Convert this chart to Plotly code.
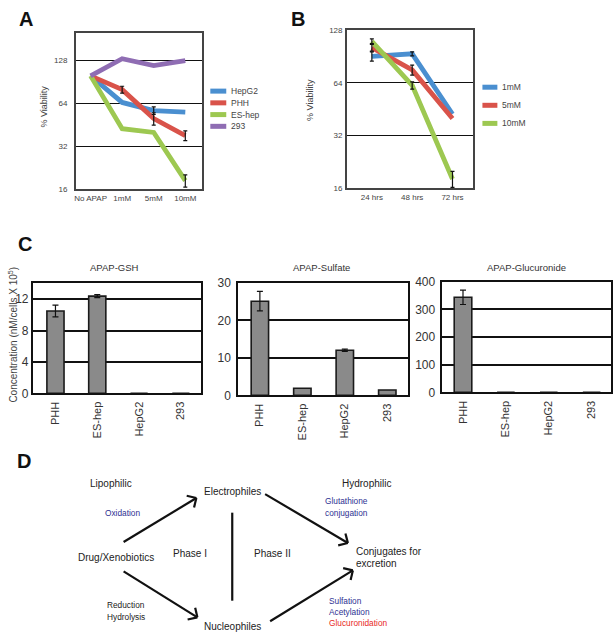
import math
import plotly.graph_objects as go

W, H = 613, 639
FONT = "Liberation Sans, Arial, sans-serif"

# ---------------- data ----------------
# Panel A: % viability vs APAP dose
doses = ["No APAP", "1mM", "5mM", "10mM"]
a_names = ["HepG2", "PHH", "ES-hep", "293"]
viab_hepg2 = [100, 65, 57, 55.5]
viab_phh = [100, 80, 50, 38]
viab_eshep = [100, 42.5, 40, 18.3]
viab_293 = [100, 132, 118, 128]
err_hepg2 = [0, 0, 3.5, 0]
err_phh = [0, 4.5, 5, 3]
err_eshep = [0, 0, 0, 1.8]
err_293 = [0, 0, 0, 0]

# Panel B: % viability vs time
times = ["24 hrs", "48 hrs", "72 hrs"]
b_names = ["1mM", "5mM", "10mM"]
viab_1mm = [91, 94, 42.5]
viab_5mm = [102, 76, 40]
viab_10mm = [111, 62, 18]
err_1mm = [5.5, 2.5, 0]
err_5mm = [4.5, 5, 0]
err_10mm = [3.5, 3, 1.9]

viab_ticks = [16, 32, 64, 128]

# Panel C: APAP conjugates
cells = ["PHH", "ES-hep", "HepG2", "293"]
c_titles = ["APAP-GSH", "APAP-Sulfate", "APAP-Glucuronide"]
gsh = [10.5, 12.4, 0, 0]
gsh_err = [0.75, 0.2, 0, 0]
sulfate = [25.1, 1.9, 12.0, 1.4]
sulfate_err = [2.6, 0, 0.3, 0]
glucuronide = [344, 0, 0, 0]
glucuronide_err = [26, 0, 0, 0]
c_ticks = [[0, 4, 8, 12], [0, 10, 20, 30], [0, 100, 200, 300, 400]]
c_ymax = [14.1, 30, 400]

# Panel D: diagram labels
d_nodes = [
    ("Lipophilic", 110, 487, 10, "#222", "center"),
    ("Electrophiles", 232, 495, 10, "#222", "center"),
    ("Hydrophilic", 367, 487, 10, "#222", "center"),
    ("Oxidation", 122, 517, 8.3, "#2e3192", "center"),
    ("Glutathione", 323, 505, 8.3, "#2e3192", "left"),
    ("conjugation", 323, 517, 8.3, "#2e3192", "left"),
    ("Drug/Xenobiotics", 115, 563, 10, "#222", "center"),
    ("Phase I", 190, 559, 10, "#222", "center"),
    ("Phase II", 272, 559, 10, "#222", "center"),
    ("Conjugates for", 354, 557, 10, "#222", "left"),
    ("excretion", 354, 569, 10, "#222", "left"),
    ("Reduction", 125, 611, 8.3, "#222", "center"),
    ("Hydrolysis", 125, 624, 8.3, "#222", "center"),
    ("Nucleophiles", 232, 633, 10, "#222", "center"),
    ("Sulfation", 327, 607, 8.3, "#2e3192", "left"),
    ("Acetylation", 327, 619, 8.3, "#2e3192", "left"),
    ("Glucuronidation", 327, 630, 8.3, "#e8281e", "left"),
]
d_arrows = [  # (tail_x, tail_y, head_x, head_y)
    (123, 547, 196, 502),
    (123, 577, 197, 624),
    (265, 498, 348, 548),
    (270, 628, 353, 576),
]
d_divider = (232, 517, 232, 607)

COL4 = ["#4a8fd0", "#d9534a", "#9dc851", "#8f6db3"]
COL3 = ["#4a8fd0", "#d9534a", "#9dc851"]


def px(x):
    return x / W


def py(y):
    return 1 - y / H


fig = go.Figure()

# ----- Panel A -----
a_vals = [viab_hepg2, viab_phh, viab_eshep, viab_293]
a_errs = [err_hepg2, err_phh, err_eshep, err_293]
for name, vals, col in zip(a_names, a_vals, COL4):
    fig.add_trace(go.Scatter(x=doses, y=vals, name=name, mode="lines",
                             line=dict(color=col, width=4.8),
                             xaxis="x", yaxis="y", showlegend=False))
for vals, errs in zip(a_vals, a_errs):
    idx = [i for i, e in enumerate(errs) if e > 0]
    if idx:
        fig.add_trace(go.Scatter(x=[doses[i] for i in idx], y=[vals[i] for i in idx],
                                 mode="markers", marker=dict(size=1, opacity=0),
                                 error_y=dict(type="data", array=[errs[i] for i in idx],
                                              color="#111", thickness=1.2, width=2),
                                 xaxis="x", yaxis="y", showlegend=False, hoverinfo="skip"))

# ----- Panel B -----
b_vals = [viab_1mm, viab_5mm, viab_10mm]
b_errs = [err_1mm, err_5mm, err_10mm]
for name, vals, col in zip(b_names, b_vals, COL3):
    fig.add_trace(go.Scatter(x=times, y=vals, name=name, mode="lines",
                             line=dict(color=col, width=4.8),
                             xaxis="x2", yaxis="y2", showlegend=False))
for vals, errs in zip(b_vals, b_errs):
    idx = [i for i, e in enumerate(errs) if e > 0]
    fig.add_trace(go.Scatter(x=[times[i] for i in idx], y=[vals[i] for i in idx],
                             mode="markers", marker=dict(size=1, opacity=0),
                             error_y=dict(type="data", array=[errs[i] for i in idx],
                                          color="#111", thickness=1.2, width=2),
                             xaxis="x2", yaxis="y2", showlegend=False, hoverinfo="skip"))

# ----- Panel C -----
c_vals = [gsh, sulfate, glucuronide]
c_errs = [gsh_err, sulfate_err, glucuronide_err]
for k, (vals, errs) in enumerate(zip(c_vals, c_errs)):
    xa, ya = "x%d" % (k + 3), "y%d" % (k + 3)
    fig.add_trace(go.Bar(x=cells, y=vals, width=0.41, name=c_titles[k],
                         marker=dict(color="#8a8a8a", line=dict(color="#1a1a1a", width=1.6)),
                         xaxis=xa, yaxis=ya, showlegend=False))
    idx = [i for i, e in enumerate(errs) if e > 0]
    fig.add_trace(go.Scatter(x=[cells[i] for i in idx], y=[vals[i] for i in idx],
                             mode="markers", marker=dict(size=1, opacity=0),
                             error_y=dict(type="data", array=[errs[i] for i in idx],
                                          color="#111", thickness=1.2, width=3),
                             xaxis=xa, yaxis=ya, showlegend=False, hoverinfo="skip"))

# ---------------- axes ----------------
tickfont_small = dict(family=FONT, size=8, color="#444")
tickfont_c = dict(family=FONT, size=12, color="#333")


def xdom(l, r):
    return [l / W, r / W]


def ydom(t, b):
    return [1 - b / H, 1 - t / H]


layout = dict(
    width=W, height=H, margin=dict(l=0, r=0, t=0, b=0),
    paper_bgcolor="white", plot_bgcolor="white",
    font=dict(family=FONT, color="#333"),
)

layout["xaxis"] = dict(domain=xdom(75, 202), anchor="y", type="category",
                       range=[-0.47, 3.54], showline=True, mirror=True,
                       linecolor="#444", linewidth=1.5, showgrid=False,
                       ticks="outside", ticklen=1, tickcolor="rgba(0,0,0,0)",
                       tickfont=tickfont_small)
layout["yaxis"] = dict(domain=ydom(27, 186), anchor="x", type="log",
                       range=[math.log10(16), math.log10(199)],
                       tickvals=viab_ticks, ticktext=[str(v) for v in viab_ticks],
                       showline=True, mirror=True, linecolor="#444", linewidth=1.5,
                       showgrid=True, gridcolor="#111", gridwidth=1,
                       ticks="outside", ticklen=5, tickcolor="rgba(0,0,0,0)",
                       tickfont=tickfont_small, zeroline=False)
layout["xaxis2"] = dict(domain=xdom(347, 474), anchor="y2", type="category",
                        range=[-0.62, 2.52], showline=True, mirror=True,
                        linecolor="#444", linewidth=1.5, showgrid=False,
                        ticks="outside", ticklen=1, tickcolor="rgba(0,0,0,0)",
                        tickfont=tickfont_small)
layout["yaxis2"] = dict(domain=ydom(24, 185), anchor="x2", type="log",
                        range=[math.log10(16), math.log10(128)],
                        tickvals=viab_ticks, ticktext=[str(v) for v in viab_ticks],
                        showline=True, mirror=True, linecolor="#444", linewidth=1.5,
                        showgrid=True, gridcolor="#111", gridwidth=1,
                        ticks="outside", ticklen=1, tickcolor="rgba(0,0,0,0)",
                        tickfont=tickfont_small, zeroline=False)
c_boxes = [(32, 201, 282, 395, [-0.54, 3.49], 0),
           (238, 408, 282, 397, [-0.51, 3.48], 3),
           (442, 611.5, 281, 394, [-0.5, 3.44], 2)]
for k, (l, r, t, b, xr, tl) in enumerate(c_boxes):
    n = k + 3
    layout["xaxis%d" % n] = dict(domain=xdom(l, r), anchor="y%d" % n, type="category",
                                 range=xr, showline=True, mirror=True,
                                 linecolor="#111", linewidth=2, showgrid=False,
                                 tickangle=-90, ticks="outside", ticklen=2,
                                 tickcolor="rgba(0,0,0,0)",
                                 tickfont=dict(family=FONT, size=11, color="#333"))
    layout["yaxis%d" % n] = dict(domain=ydom(t, b), anchor="x%d" % n,
                                 range=[0, c_ymax[k]], tickvals=c_ticks[k],
                                 showline=True, mirror=True, linecolor="#111", linewidth=2,
                                 showgrid=True, gridcolor="#111", gridwidth=2,
                                 zeroline=False, ticks="outside" if tl else "",
                                 ticklen=tl, tickcolor="rgba(0,0,0,0)",
                                 tickfont=tickfont_c)

# ---------------- annotations & shapes ----------------
ann = []
shapes = []


def text(t, x, y, size, color="#333", xanchor="center", angle=0, bold=False):
    ann.append(dict(text=("<b>%s</b>" % t) if bold else t, x=px(x), y=py(y),
                    xref="paper", yref="paper", xanchor=xanchor, yanchor="middle",
                    showarrow=False, textangle=angle,
                    font=dict(family=FONT, size=size, color=color)))


def seg(x0, y0, x1, y1, color="#111", width=2.2):
    shapes.append(dict(type="line", xref="paper", yref="paper",
                       x0=px(x0), x1=px(x1), y0=py(y0), y1=py(y1),
                       line=dict(color=color, width=width)))


for letter, x, y in [("A", 25, 12), ("B", 298, 12), ("C", 24, 242), ("D", 23, 464)]:
    text(letter, x, y, 20, "#111", bold=True)

text("% Viability", 43, 102, 9, "#444", angle=-90)
text("% Viability", 310, 95, 9, "#444", angle=-90)
text("Concentration (nM/cells X 10<sup>5</sup>)", 12, 335, 10, "#444", angle=-90)

for t, x in zip(c_titles, [114, 322, 527]):
    text(t, x, 266, 9.5, "#333")

for i, (name, col) in enumerate(zip(a_names, COL4)):
    y = 86 + 12 * i
    seg(210, y, 226, y, col, 5)
    text(name, 229, y, 8.5, "#444", xanchor="left")
for i, (name, col) in enumerate(zip(b_names, COL3)):
    y = 82 + 18.5 * i
    seg(483, y, 498, y, col, 5)
    text(name, 501, y, 8.5, "#444", xanchor="left")

for t, x, y, s, c, anc in d_nodes:
    text(t, x, y, s, c, xanchor=anc)

ARM = 10.0
for tx, ty, hx, hy in d_arrows:
    seg(tx, ty, hx, hy)
    ang = math.atan2(ty - hy, tx - hx)
    for da in (math.radians(45), -math.radians(45)):
        seg(hx, hy, hx + ARM * math.cos(ang + da), hy + ARM * math.sin(ang + da))
x0, y0, x1, y1 = d_divider
seg(x0, y0, x1, y1)

layout["annotations"] = ann
layout["shapes"] = shapes
fig.update_layout(**layout)

fig.write_html("out.html", config={"displayModeBar": False},
               post_script="document.body.style.margin='0px';document.body.style.overflow='hidden';")
